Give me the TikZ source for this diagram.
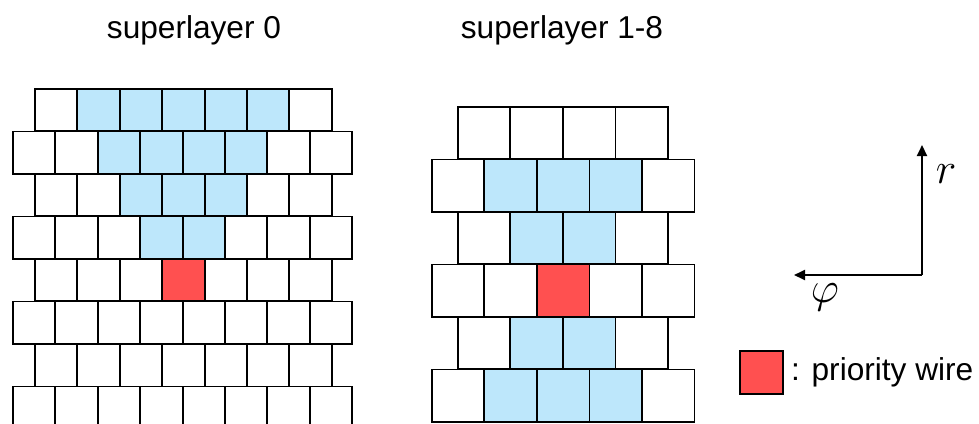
\documentclass[tikz,border=0pt]{standalone}
\usepackage{fontspec}
\setmainfont{Liberation Sans}
\definecolor{wc}{HTML}{FFFFFF}
\definecolor{bc}{HTML}{BDE7FB}
\definecolor{rc}{HTML}{FF5050}
\usetikzlibrary{arrows.meta,positioning}
\tikzset{
  cell_s/.style={draw=black,line width=1.1pt,inner sep=0pt,anchor=north west,
    minimum width=0.848cm,minimum height=0.85cm},
  cell_l/.style={draw=black,line width=1.1pt,inner sep=0pt,anchor=north west,
    minimum width=1.05cm,minimum height=1.05cm},
  title_txt/.style={font=\fontsize{18}{20}\selectfont},
  math_txt/.style={font=\fontsize{25}{28}\selectfont},
  axis_arr/.style={-{Triangle[length=0.22cm,width=0.2cm]},line width=1.1pt},
}

\begin{document}
\begin{tikzpicture}[x=0.02cm,y=-0.02cm]
    \useasboundingbox (0,0) rectangle (979,423);
    \clip (0,0) rectangle (979,423);
    % superlayer 0
    \foreach \row/\xs/\cols in {0/34/{wc,bc,bc,bc,bc,bc,wc},1/12/{wc,wc,bc,bc,bc,bc,wc,wc},
        2/34/{wc,wc,bc,bc,bc,wc,wc},3/12/{wc,wc,wc,bc,bc,wc,wc,wc},4/34/{wc,wc,wc,rc,wc,wc,wc},
        5/12/{wc,wc,wc,wc,wc,wc,wc,wc},6/34/{wc,wc,wc,wc,wc,wc,wc},7/12/{wc,wc,wc,wc,wc,wc,wc,wc}}{
      \foreach \c [count=\i from 0] in \cols
        \node[cell_s,fill=\c] (sa-\row-\i) at (\xs+\i*42.4,88+\row*42.5) {};
    }
    % superlayer 1-8
    \foreach \row/\xs/\cols in {0/457/{wc,wc,wc,wc},1/431/{wc,bc,bc,bc,wc},2/457/{wc,bc,bc,wc},
        3/431/{wc,wc,rc,wc,wc},4/457/{wc,bc,bc,wc},5/431/{wc,bc,bc,bc,wc}}{
      \foreach \c [count=\i from 0] in \cols
        \node[cell_l,fill=\c] (sb-\row-\i) at (\xs+\i*52.5,106+\row*52.5) {};
    }
    \node[title_txt] (t0) at (194,30) {superlayer 0};
    \node[title_txt] (t1) at (562,30) {superlayer 1-8};
    % axes
    \coordinate (o) at (922,275);
    \coordinate (rtip) at (922,145);
    \coordinate (ptip) at (794,275);
    \draw[axis_arr] (o) -- (rtip);
    \draw[axis_arr] (o) -- (ptip);
    \node[math_txt] (rl) at (946,174) {$r$};
    \node[math_txt] (pl) at (825,297) {$\varphi$};
    % legend
    \node[cell_s,fill=rc,minimum width=0.86cm,minimum height=0.86cm] (key) at (739,350) {};
    \node[title_txt,right=0.02cm of key] (keytxt) {: priority wire};
  \end{tikzpicture}
\end{document}
